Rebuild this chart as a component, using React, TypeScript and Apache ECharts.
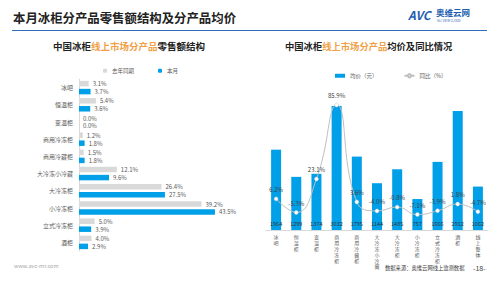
import React, { useEffect, useRef } from "react";
import * as echarts from "echarts";

const categoriesL = ["冰吧", "恒温柜", "变温柜", "商用冷冻柜", "商用冷藏柜", "大冷冻小冷藏", "大冷冻柜", "小冷冻柜", "立式冷冻柜", "酒柜"];
const lastYear = [3.1, 5.4, 0.0, 1.2, 1.5, 12.1, 26.4, 39.2, 5.0, 4.0];
const thisMonth = [3.7, 3.6, 0.0, 1.8, 1.8, 9.6, 27.5, 43.5, 3.9, 2.9];

const categoriesR = ["冰吧", "恒温柜", "变温柜", "商用冷冻柜", "商用冷藏柜", "大冷冻小冷藏", "大冷冻柜", "小冷冻柜", "立式冷冻柜", "酒柜", "线上整体"];
const avgPrice = [1964, 1299, 1374, 3032, 1795, 1144, 1485, 757, 1666, 2912, 1062];
const yoy = [6.2, -5.3, 23.1, 85.9, 3.6, -4.0, -0.8, -7.1, -3.9, 1.8, -4.7];

const FONT = "'Noto Sans CJK SC', 'Noto Sans', sans-serif";
const BLUE = "#00A0E9";
const GRAY = "#D9D9D9";
const TXT = "#595959";

export default function App() {
  const ref = useRef<HTMLDivElement>(null);
  useEffect(() => {
    if (!ref.current) return;
    const chart = echarts.init(ref.current, null, { renderer: "svg" });
    const option: any = {
      animation: false,
      backgroundColor: "#fff",
      textStyle: { fontFamily: FONT },
      legend: [
        {
          left: 98,
          top: 63,
          itemWidth: 4,
          itemHeight: 4,
          itemGap: 24,
          textStyle: { fontSize: 5.5, color: TXT, fontFamily: FONT },
          data: ["去年同期", "本月"],
        },
        {
          left: 330,
          top: 68,
          itemWidth: 10,
          itemHeight: 4,
          itemGap: 26,
          textStyle: { fontSize: 5.5, color: TXT, fontFamily: FONT },
          data: [{ name: "均价（元）", icon: "rect" }, { name: "同比（%）" }],
        },
      ],
      grid: [
        { left: 79, top: 79, width: 160, height: 172 },
        { left: 266, top: 90, width: 222, height: 140 },
      ],
      xAxis: [
        { gridIndex: 0, type: "value", min: 0, max: 51.2, show: false },
        {
          gridIndex: 1,
          type: "category",
          data: categoriesR,
          axisLine: { lineStyle: { color: "#D9D9D9" } },
          axisTick: { show: false },
          axisLabel: {
            interval: 0,
            fontSize: 5,
            lineHeight: 5.8,
            color: TXT,
            margin: 4,
            verticalAlign: "top",
            formatter: (v: string) => v.split("").join("\n"),
          },
        },
      ],
      yAxis: [
        {
          gridIndex: 0,
          type: "category",
          inverse: true,
          data: categoriesL,
          axisLine: { lineStyle: { color: "#D9D9D9" } },
          axisTick: { show: false },
          axisLabel: { fontSize: 6, color: TXT, margin: 6 },
        },
        { gridIndex: 1, type: "value", min: 0, max: 3423, show: false },
        { gridIndex: 1, type: "value", min: -20.2, max: 98.6, show: false },
      ],
      series: [
        {
          name: "去年同期",
          type: "bar",
          xAxisIndex: 0,
          yAxisIndex: 0,
          data: lastYear,
          barWidth: 5.5,
          barGap: "45%",
          itemStyle: { color: GRAY },
          label: {
            show: true,
            position: "right",
            distance: 4,
            fontSize: 6,
            color: TXT,
            formatter: (p: any) => p.value.toFixed(1) + "%",
          },
        },
        {
          name: "本月",
          type: "bar",
          xAxisIndex: 0,
          yAxisIndex: 0,
          data: thisMonth,
          barWidth: 5.5,
          itemStyle: { color: BLUE },
          label: {
            show: true,
            position: "right",
            distance: 4,
            fontSize: 6,
            color: TXT,
            formatter: (p: any) => p.value.toFixed(1) + "%",
          },
        },
        {
          name: "均价（元）",
          type: "bar",
          xAxisIndex: 1,
          yAxisIndex: 1,
          data: avgPrice,
          barWidth: 10,
          itemStyle: { color: BLUE },
          label: {
            show: true,
            position: "insideBottom",
            distance: 3,
            fontSize: 5.5,
            color: "#333",
          },
        },
        {
          name: "同比（%）",
          type: "line",
          xAxisIndex: 1,
          yAxisIndex: 2,
          data: yoy,
          smooth: true,
          symbol: "circle",
          symbolSize: 4,
          lineStyle: { color: "#BFBFBF", width: 1 },
          itemStyle: { color: "#fff", borderColor: "#BFBFBF", borderWidth: 0.5 },
          label: {
            show: true,
            position: "top",
            distance: 4,
            fontSize: 6,
            color: "#404040",
            formatter: (p: any) => p.value.toFixed(1) + "%",
          },
          z: 5,
        },
      ],
      graphic: [
        {
          type: "text",
          left: 13,
          top: 12,
          style: { text: "本月冰柜分产品零售额结构及分产品均价", fontSize: 12.4, fontWeight: "bold", fill: "#222", fontFamily: FONT },
        },
        {
          type: "line",
          shape: { x1: 12, y1: 30.5, x2: 487, y2: 30.5 },
          style: { stroke: "#2F6EBA", lineWidth: 1.2 },
        },
        {
          type: "text",
          left: 408,
          top: 8,
          style: { text: "AVC", fontSize: 12, fontWeight: "bold", fontStyle: "italic", fill: "#1F5FAF", fontFamily: FONT },
        },
        {
          type: "text",
          left: 436,
          top: 8,
          style: { text: "奥维云网", fontSize: 8.5, fontWeight: "bold", fill: "#1F5FAF", fontFamily: FONT },
        },
        {
          type: "text",
          left: 437,
          top: 19,
          style: { text: "ALL VIEW CLOUD", fontSize: 3, fill: "#1F5FAF", fontFamily: FONT },
        },
        {
          type: "text",
          left: 53,
          top: 41,
          style: {
            text: "{a|中国冰柜}{b|线上市场分产品}{a|零售额结构}",
            rich: {
              a: { fontSize: 9.5, fontWeight: "bold", fill: "#222", fontFamily: FONT },
              b: { fontSize: 9.5, fontWeight: "bold", fill: "#F0A045", fontFamily: FONT },
            },
          },
        },
        {
          type: "text",
          left: 285,
          top: 41,
          style: {
            text: "{a|中国冰柜}{b|线上市场分产品}{a|均价及同比情况}",
            rich: {
              a: { fontSize: 9.3, fontWeight: "bold", fill: "#222", fontFamily: FONT },
              b: { fontSize: 9.3, fontWeight: "bold", fill: "#F0A045", fontFamily: FONT },
            },
          },
        },
        {
          type: "text",
          left: 14,
          top: 263,
          style: { text: "www.avc-mr.com", fontSize: 5.5, fill: "#A6A6A6", fontFamily: FONT },
        },
        {
          type: "text",
          left: 385,
          top: 265,
          style: { text: "数据来源：奥维云网线上监测数据", fontSize: 5.3, fill: "#404040", fontFamily: FONT },
        },
        {
          type: "text",
          left: 473,
          top: 264,
          style: { text: "-18-", fontSize: 7, fill: "#404040", fontFamily: FONT },
        },
      ],
    };
    chart.setOption(option);
    return () => chart.dispose();
  }, []);
  return (
    <div
      ref={ref}
      style={{ position: "fixed", left: 0, top: 0, width: 500, height: 281, background: "#fff" }}
    />
  );
}
